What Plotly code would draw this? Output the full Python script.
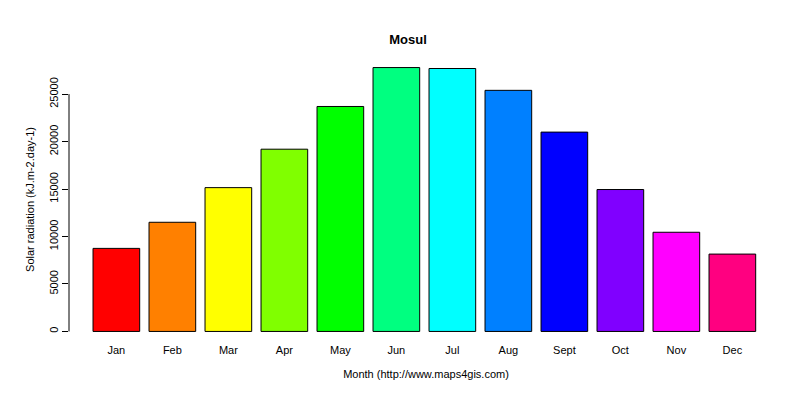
import plotly.graph_objects as go

months = ["Jan","Feb","Mar","Apr","May","Jun","Jul","Aug","Sept","Oct","Nov","Dec"]
values = [8750, 11500, 15150, 19200, 23700, 27800, 27700, 25400, 21000, 14950, 10450, 8150]
colors = ["#FF0000","#FF8000","#FFFF00","#80FF00","#00FF00","#00FF80",
          "#00FFFF","#0080FF","#0000FF","#8000FF","#FF00FF","#FF0080"]
yticks = [0, 5000, 10000, 15000, 20000, 25000]

xpos = [0.7 + i*1.2 for i in range(len(months))]

fig = go.Figure(go.Bar(x=xpos, y=values, width=1, marker=dict(color=colors, line=dict(color="black", width=1))))
fig.update_layout(
    width=800, height=400, plot_bgcolor="white", paper_bgcolor="white",
    margin=dict(l=61, r=25, t=49, b=66, autoexpand=False),
    font=dict(family="Liberation Sans, Arial", size=12, color="black"),
    title=dict(text="<b>Mosul</b>", x=0.5, xanchor="center", y=0.922, yanchor="middle", yref="container", font=dict(size=13)),
    showlegend=False,
    xaxis=dict(range=[-0.315, 14.985], tickvals=xpos, ticktext=months, showline=False, showgrid=False, automargin=False,
               zeroline=False, ticks="", title=dict(text="Month (http://www.maps4gis.com)", font=dict(size=11), standoff=15),
               tickfont=dict(size=11)),
    yaxis=dict(range=[-1112, 28912], tickvals=yticks, ticktext=[str(v) for v in yticks], tickangle=-90, automargin=False,
               showline=False, showgrid=False, zeroline=False, ticks="outside", ticklen=6, tickcolor="black",
               title=dict(text="Solar radiation (kJ.m-2.day-1)", font=dict(size=11), standoff=10),
               tickfont=dict(size=11)),
)
fig.add_shape(type="line", xref="paper", yref="y", x0=0, x1=0, y0=0, y1=25000, line=dict(color="black", width=1))
fig.write_html("out.html")
